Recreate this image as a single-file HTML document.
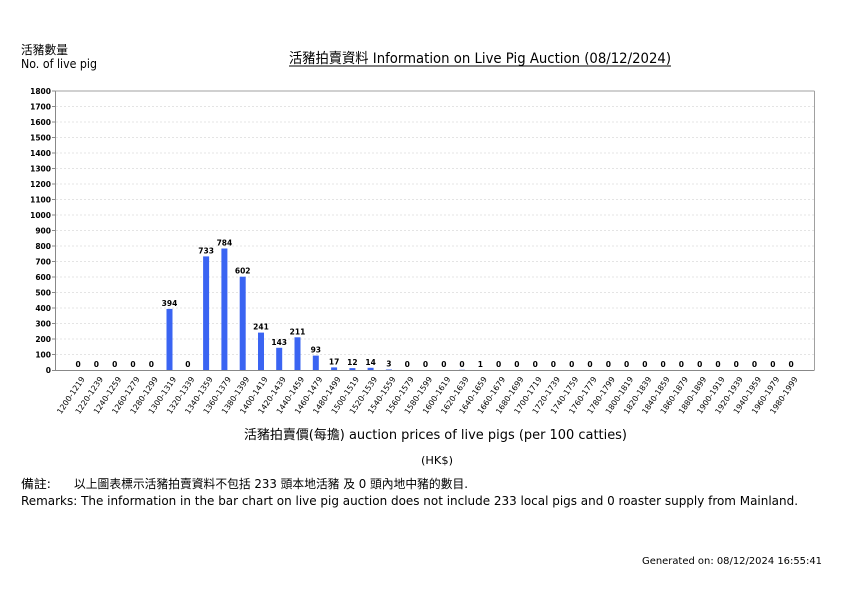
<!DOCTYPE html>
<html>
<head>
<meta charset="utf-8">
<style>
  html, body { margin:0; padding:0; background:#fff; }
  svg { display:block; }
  .lat { font-family: "DejaVu Sans", "Liberation Sans", "Noto Sans CJK TC", sans-serif; }
  .cjk { font-family: "DejaVu Sans", "Noto Sans CJK TC", sans-serif; }
</style>
</head>
<body>
<svg width="842" height="595" viewBox="0 0 842 595" xmlns="http://www.w3.org/2000/svg">
  <rect x="0" y="0" width="842" height="595" fill="#fff"/>

  <!-- Top-left labels -->
  <text class="cjk" x="21" y="54" font-size="12" fill="#000" textLength="47" lengthAdjust="spacingAndGlyphs">活豬數量</text>
  <text class="lat" x="21" y="68" font-size="12" fill="#000" textLength="76" lengthAdjust="spacingAndGlyphs">No. of live pig</text>

  <!-- Title -->
  <text class="cjk" x="289" y="63" font-size="14" fill="#000" textLength="382" lengthAdjust="spacingAndGlyphs">活豬拍賣資料 Information on Live Pig Auction (08/12/2024)</text>
  <line x1="289" y1="66" x2="671" y2="66" stroke="#000" stroke-width="1"/>

  <!-- Grid lines -->
  <g stroke="#dcdcdc" stroke-width="0.8" stroke-dasharray="2,2">
    <line x1="56" y1="354.5" x2="814" y2="354.5"/>
    <line x1="56" y1="339" x2="814" y2="339"/>
    <line x1="56" y1="323.5" x2="814" y2="323.5"/>
    <line x1="56" y1="308" x2="814" y2="308"/>
    <line x1="56" y1="292.5" x2="814" y2="292.5"/>
    <line x1="56" y1="277" x2="814" y2="277"/>
    <line x1="56" y1="261.5" x2="814" y2="261.5"/>
    <line x1="56" y1="246" x2="814" y2="246"/>
    <line x1="56" y1="230.5" x2="814" y2="230.5"/>
    <line x1="56" y1="215" x2="814" y2="215"/>
    <line x1="56" y1="199.5" x2="814" y2="199.5"/>
    <line x1="56" y1="184" x2="814" y2="184"/>
    <line x1="56" y1="168.5" x2="814" y2="168.5"/>
    <line x1="56" y1="153" x2="814" y2="153"/>
    <line x1="56" y1="137.5" x2="814" y2="137.5"/>
    <line x1="56" y1="122" x2="814" y2="122"/>
    <line x1="56" y1="106.5" x2="814" y2="106.5"/>
  </g>

  <!-- Plot border -->
  <line x1="55" y1="91" x2="814.5" y2="91" stroke="#a0a0a0" stroke-width="1"/>
  <line x1="814.5" y1="91" x2="814.5" y2="370" stroke="#a0a0a0" stroke-width="1"/>
  <line x1="55.5" y1="91" x2="55.5" y2="370.5" stroke="#888" stroke-width="1"/>
  <line x1="55" y1="370.5" x2="814.5" y2="370.5" stroke="#888" stroke-width="1"/>

  <!-- Y ticks -->
  <g stroke="#888" stroke-width="1">
    <line x1="52" y1="370.5" x2="55" y2="370.5"/>
    <line x1="52" y1="354.5" x2="55" y2="354.5"/>
    <line x1="52" y1="339" x2="55" y2="339"/>
    <line x1="52" y1="323.5" x2="55" y2="323.5"/>
    <line x1="52" y1="308" x2="55" y2="308"/>
    <line x1="52" y1="292.5" x2="55" y2="292.5"/>
    <line x1="52" y1="277" x2="55" y2="277"/>
    <line x1="52" y1="261.5" x2="55" y2="261.5"/>
    <line x1="52" y1="246" x2="55" y2="246"/>
    <line x1="52" y1="230.5" x2="55" y2="230.5"/>
    <line x1="52" y1="215" x2="55" y2="215"/>
    <line x1="52" y1="199.5" x2="55" y2="199.5"/>
    <line x1="52" y1="184" x2="55" y2="184"/>
    <line x1="52" y1="168.5" x2="55" y2="168.5"/>
    <line x1="52" y1="153" x2="55" y2="153"/>
    <line x1="52" y1="137.5" x2="55" y2="137.5"/>
    <line x1="52" y1="122" x2="55" y2="122"/>
    <line x1="52" y1="106.5" x2="55" y2="106.5"/>
    <line x1="52" y1="91" x2="55" y2="91"/>
  </g>

  <!-- Y tick labels -->
  <g class="lat" font-size="7.5" font-weight="bold" fill="#000" text-anchor="end">
    <text x="51" y="373">0</text>
    <text x="51" y="357.5">100</text>
    <text x="51" y="342">200</text>
    <text x="51" y="326.5">300</text>
    <text x="51" y="311">400</text>
    <text x="51" y="295.5">500</text>
    <text x="51" y="280">600</text>
    <text x="51" y="264.5">700</text>
    <text x="51" y="249">800</text>
    <text x="51" y="233.5">900</text>
    <text x="51" y="218">1000</text>
    <text x="51" y="202.5">1100</text>
    <text x="51" y="187">1200</text>
    <text x="51" y="171.5">1300</text>
    <text x="51" y="156">1400</text>
    <text x="51" y="140.5">1500</text>
    <text x="51" y="125">1600</text>
    <text x="51" y="109.5">1700</text>
    <text x="51" y="94">1800</text>
  </g>

  <!-- Bars -->
  <g fill="#3a64f2">
    <rect x="166.5" y="308.9" width="6" height="61.1"/>
    <rect x="203.1" y="256.4" width="6" height="113.6"/>
    <rect x="221.4" y="248.5" width="6" height="121.5"/>
    <rect x="239.7" y="276.7" width="6" height="93.3"/>
    <rect x="258.0" y="332.6" width="6" height="37.4"/>
    <rect x="276.2" y="347.8" width="6" height="22.2"/>
    <rect x="294.5" y="337.3" width="6" height="32.7"/>
    <rect x="312.8" y="355.6" width="6" height="14.4"/>
    <rect x="331.1" y="367.4" width="6" height="2.6"/>
    <rect x="349.4" y="368.1" width="6" height="1.9"/>
    <rect x="367.6" y="367.8" width="6" height="2.2"/>
    <rect x="385.9" y="369.5" width="6" height="0.5"/>
    <rect x="459.0" y="369.8" width="6" height="0.2"/>
  </g>

  <!-- Value labels -->
  <g class="lat" font-size="7.5" font-weight="bold" fill="#000" text-anchor="middle">
    <text x="78.1" y="367">0</text>
    <text x="96.4" y="367">0</text>
    <text x="114.7" y="367">0</text>
    <text x="133.0" y="367">0</text>
    <text x="151.3" y="367">0</text>
    <text x="169.5" y="306">394</text>
    <text x="187.8" y="367">0</text>
    <text x="206.1" y="253.4">733</text>
    <text x="224.4" y="245.5">784</text>
    <text x="242.7" y="273.7">602</text>
    <text x="261.0" y="329.6">241</text>
    <text x="279.2" y="344.8">143</text>
    <text x="297.5" y="334.3">211</text>
    <text x="315.8" y="352.6">93</text>
    <text x="334.1" y="364.4">17</text>
    <text x="352.4" y="365.1">12</text>
    <text x="370.6" y="364.8">14</text>
    <text x="388.9" y="366.5">3</text>
    <text x="407.2" y="367">0</text>
    <text x="425.5" y="367">0</text>
    <text x="443.8" y="367">0</text>
    <text x="462.0" y="367">0</text>
    <text x="480.3" y="366.8">1</text>
    <text x="498.6" y="367">0</text>
    <text x="516.9" y="367">0</text>
    <text x="535.2" y="367">0</text>
    <text x="553.4" y="367">0</text>
    <text x="571.7" y="367">0</text>
    <text x="590.0" y="367">0</text>
    <text x="608.3" y="367">0</text>
    <text x="626.6" y="367">0</text>
    <text x="644.8" y="367">0</text>
    <text x="663.1" y="367">0</text>
    <text x="681.4" y="367">0</text>
    <text x="699.7" y="367">0</text>
    <text x="718.0" y="367">0</text>
    <text x="736.2" y="367">0</text>
    <text x="754.5" y="367">0</text>
    <text x="772.8" y="367">0</text>
    <text x="791.1" y="367">0</text>
  </g>

  <!-- X category labels (rotated) -->
  <g class="lat" font-size="7.8" fill="#000" text-anchor="end">
    <text x="85.1" y="379" transform="rotate(-56 85.1 379)" textLength="43" lengthAdjust="spacingAndGlyphs">1200-1219</text>
    <text x="103.4" y="379" transform="rotate(-56 103.4 379)" textLength="43" lengthAdjust="spacingAndGlyphs">1220-1239</text>
    <text x="121.7" y="379" transform="rotate(-56 121.7 379)" textLength="43" lengthAdjust="spacingAndGlyphs">1240-1259</text>
    <text x="140.0" y="379" transform="rotate(-56 140.0 379)" textLength="43" lengthAdjust="spacingAndGlyphs">1260-1279</text>
    <text x="158.3" y="379" transform="rotate(-56 158.3 379)" textLength="43" lengthAdjust="spacingAndGlyphs">1280-1299</text>
    <text x="176.5" y="379" transform="rotate(-56 176.5 379)" textLength="43" lengthAdjust="spacingAndGlyphs">1300-1319</text>
    <text x="194.8" y="379" transform="rotate(-56 194.8 379)" textLength="43" lengthAdjust="spacingAndGlyphs">1320-1339</text>
    <text x="213.1" y="379" transform="rotate(-56 213.1 379)" textLength="43" lengthAdjust="spacingAndGlyphs">1340-1359</text>
    <text x="231.4" y="379" transform="rotate(-56 231.4 379)" textLength="43" lengthAdjust="spacingAndGlyphs">1360-1379</text>
    <text x="249.7" y="379" transform="rotate(-56 249.7 379)" textLength="43" lengthAdjust="spacingAndGlyphs">1380-1399</text>
    <text x="268.0" y="379" transform="rotate(-56 268.0 379)" textLength="43" lengthAdjust="spacingAndGlyphs">1400-1419</text>
    <text x="286.2" y="379" transform="rotate(-56 286.2 379)" textLength="43" lengthAdjust="spacingAndGlyphs">1420-1439</text>
    <text x="304.5" y="379" transform="rotate(-56 304.5 379)" textLength="43" lengthAdjust="spacingAndGlyphs">1440-1459</text>
    <text x="322.8" y="379" transform="rotate(-56 322.8 379)" textLength="43" lengthAdjust="spacingAndGlyphs">1460-1479</text>
    <text x="341.1" y="379" transform="rotate(-56 341.1 379)" textLength="43" lengthAdjust="spacingAndGlyphs">1480-1499</text>
    <text x="359.4" y="379" transform="rotate(-56 359.4 379)" textLength="43" lengthAdjust="spacingAndGlyphs">1500-1519</text>
    <text x="377.6" y="379" transform="rotate(-56 377.6 379)" textLength="43" lengthAdjust="spacingAndGlyphs">1520-1539</text>
    <text x="395.9" y="379" transform="rotate(-56 395.9 379)" textLength="43" lengthAdjust="spacingAndGlyphs">1540-1559</text>
    <text x="414.2" y="379" transform="rotate(-56 414.2 379)" textLength="43" lengthAdjust="spacingAndGlyphs">1560-1579</text>
    <text x="432.5" y="379" transform="rotate(-56 432.5 379)" textLength="43" lengthAdjust="spacingAndGlyphs">1580-1599</text>
    <text x="450.8" y="379" transform="rotate(-56 450.8 379)" textLength="43" lengthAdjust="spacingAndGlyphs">1600-1619</text>
    <text x="469.0" y="379" transform="rotate(-56 469.0 379)" textLength="43" lengthAdjust="spacingAndGlyphs">1620-1639</text>
    <text x="487.3" y="379" transform="rotate(-56 487.3 379)" textLength="43" lengthAdjust="spacingAndGlyphs">1640-1659</text>
    <text x="505.6" y="379" transform="rotate(-56 505.6 379)" textLength="43" lengthAdjust="spacingAndGlyphs">1660-1679</text>
    <text x="523.9" y="379" transform="rotate(-56 523.9 379)" textLength="43" lengthAdjust="spacingAndGlyphs">1680-1699</text>
    <text x="542.2" y="379" transform="rotate(-56 542.2 379)" textLength="43" lengthAdjust="spacingAndGlyphs">1700-1719</text>
    <text x="560.4" y="379" transform="rotate(-56 560.4 379)" textLength="43" lengthAdjust="spacingAndGlyphs">1720-1739</text>
    <text x="578.7" y="379" transform="rotate(-56 578.7 379)" textLength="43" lengthAdjust="spacingAndGlyphs">1740-1759</text>
    <text x="597.0" y="379" transform="rotate(-56 597.0 379)" textLength="43" lengthAdjust="spacingAndGlyphs">1760-1779</text>
    <text x="615.3" y="379" transform="rotate(-56 615.3 379)" textLength="43" lengthAdjust="spacingAndGlyphs">1780-1799</text>
    <text x="633.6" y="379" transform="rotate(-56 633.6 379)" textLength="43" lengthAdjust="spacingAndGlyphs">1800-1819</text>
    <text x="651.8" y="379" transform="rotate(-56 651.8 379)" textLength="43" lengthAdjust="spacingAndGlyphs">1820-1839</text>
    <text x="670.1" y="379" transform="rotate(-56 670.1 379)" textLength="43" lengthAdjust="spacingAndGlyphs">1840-1859</text>
    <text x="688.4" y="379" transform="rotate(-56 688.4 379)" textLength="43" lengthAdjust="spacingAndGlyphs">1860-1879</text>
    <text x="706.7" y="379" transform="rotate(-56 706.7 379)" textLength="43" lengthAdjust="spacingAndGlyphs">1880-1899</text>
    <text x="725.0" y="379" transform="rotate(-56 725.0 379)" textLength="43" lengthAdjust="spacingAndGlyphs">1900-1919</text>
    <text x="743.2" y="379" transform="rotate(-56 743.2 379)" textLength="43" lengthAdjust="spacingAndGlyphs">1920-1939</text>
    <text x="761.5" y="379" transform="rotate(-56 761.5 379)" textLength="43" lengthAdjust="spacingAndGlyphs">1940-1959</text>
    <text x="779.8" y="379" transform="rotate(-56 779.8 379)" textLength="43" lengthAdjust="spacingAndGlyphs">1960-1979</text>
    <text x="798.1" y="379" transform="rotate(-56 798.1 379)" textLength="43" lengthAdjust="spacingAndGlyphs">1980-1999</text>
  </g>

  <!-- X axis title -->
  <text class="cjk" x="244" y="439" font-size="13" fill="#000" textLength="383" lengthAdjust="spacingAndGlyphs">活豬拍賣價(每擔) auction prices of live pigs (per 100 catties)</text>
  <text class="lat" x="421" y="464" font-size="11" fill="#000" textLength="32" lengthAdjust="spacingAndGlyphs">(HK$)</text>

  <!-- Remarks -->
  <text class="cjk" x="21" y="488" font-size="12" fill="#000" textLength="30" lengthAdjust="spacingAndGlyphs">備註:</text>
  <text class="cjk" x="74" y="488" font-size="12" fill="#000" textLength="394" lengthAdjust="spacingAndGlyphs">以上圖表標示活豬拍賣資料不包括 233 頭本地活豬 及 0 頭內地中豬的數目.</text>
  <text class="lat" x="21" y="505" font-size="12" fill="#000" textLength="777" lengthAdjust="spacingAndGlyphs">Remarks: The information in the bar chart on live pig auction does not include 233 local pigs and 0 roaster supply from Mainland.</text>

  <!-- Footer -->
  <text class="lat" x="642" y="564" font-size="9.5" fill="#000" textLength="180" lengthAdjust="spacingAndGlyphs">Generated on: 08/12/2024 16:55:41</text>
</svg>
</body>
</html>
